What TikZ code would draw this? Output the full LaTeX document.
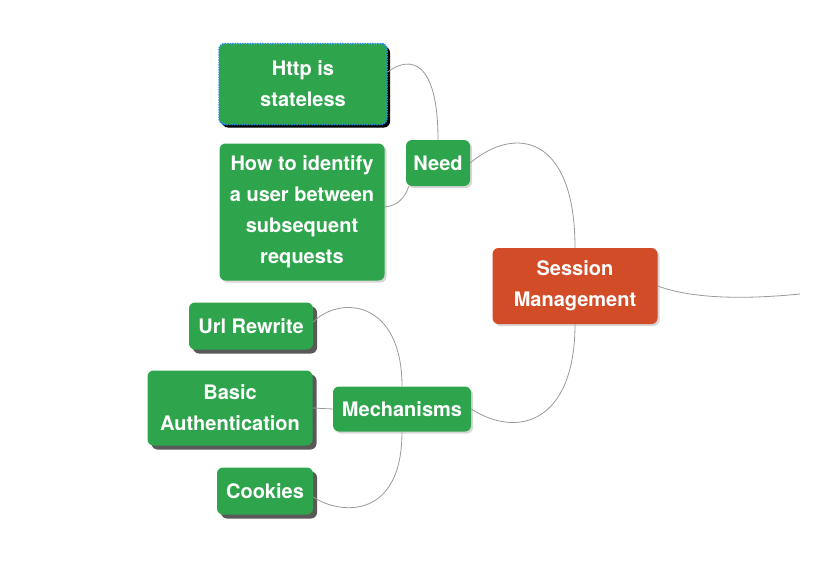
\documentclass[tikz,border=0pt]{standalone}
\usepackage{fontspec}
\setmainfont{TeX Gyre Heros}
\usetikzlibrary{shadows}
\definecolor{topicgreen}{RGB}{46,165,76}
\definecolor{centralred}{RGB}{210,76,40}
\definecolor{selblue}{RGB}{40,140,230}
\begin{document}
\begin{tikzpicture}[x=1pt,y=-1pt,
  topic/.style={rounded corners=6pt,fill=topicgreen,text=white,align=center,
    font=\fontsize{20}{31}\selectfont\bfseries,inner sep=0pt},
  soft/.style={drop shadow={shadow xshift=2pt,shadow yshift=-2pt,fill=gray!45,opacity=0.7}},
  hard/.style={drop shadow={shadow xshift=4pt,shadow yshift=-4pt,fill=gray!70!black,opacity=1}},
  branch/.style={draw=gray!80,line width=0.8pt}]
\useasboundingbox (0,0) rectangle (821,560);

\node[topic,soft,fill=centralred,minimum width=165,minimum height=76] (sess) at (575,286) {Session\\Management};
\node[topic,soft,minimum width=64,minimum height=46] (need) at (438,163) {Need};
\node[topic,soft,minimum width=138,minimum height=45] (mech) at (402,409) {Mechanisms};

\node[topic,minimum width=168,minimum height=81,draw=selblue,densely dotted,line width=1.5pt,
  drop shadow={shadow xshift=3pt,shadow yshift=-3pt,fill=black,opacity=1}] (http) at (303,84) {Http is\\stateless};
\node[topic,soft,minimum width=165,minimum height=137] (how) at (302,212) {How to identify\\a user between\\subsequent\\requests};

\node[topic,hard,minimum width=124,minimum height=47] (url) at (251,326) {Url Rewrite};
\node[topic,hard,minimum width=165,minimum height=75] (basic) at (230,408) {Basic\\Authentication};
\node[topic,hard,minimum width=96,minimum height=47] (cookies) at (265,491) {Cookies};

\coordinate (out) at (800,294);

\draw[branch] (sess.east) .. controls (690,298) and (740,300) .. (out);
\draw[branch] (need.east) .. controls (515,125) and (575,135) .. (sess.north);
\draw[branch] (mech.east) .. controls (520,440) and (575,420) .. (sess.south);
\draw[branch] (need.north) .. controls (438,60) and (410,55) .. ([yshift=12pt]http.east);
\draw[branch] ([xshift=3pt]need.south west) .. controls (405,198) and (397,206) .. ([yshift=5pt]how.east);
\draw[branch] (mech.north) .. controls (402,300) and (340,295) .. ([yshift=4pt]url.east);
\draw[branch] (mech.west) -- (basic.east);
\draw[branch] (mech.south) .. controls (402,520) and (340,515) .. ([yshift=-6pt]cookies.east);
\end{tikzpicture}
\end{document}
